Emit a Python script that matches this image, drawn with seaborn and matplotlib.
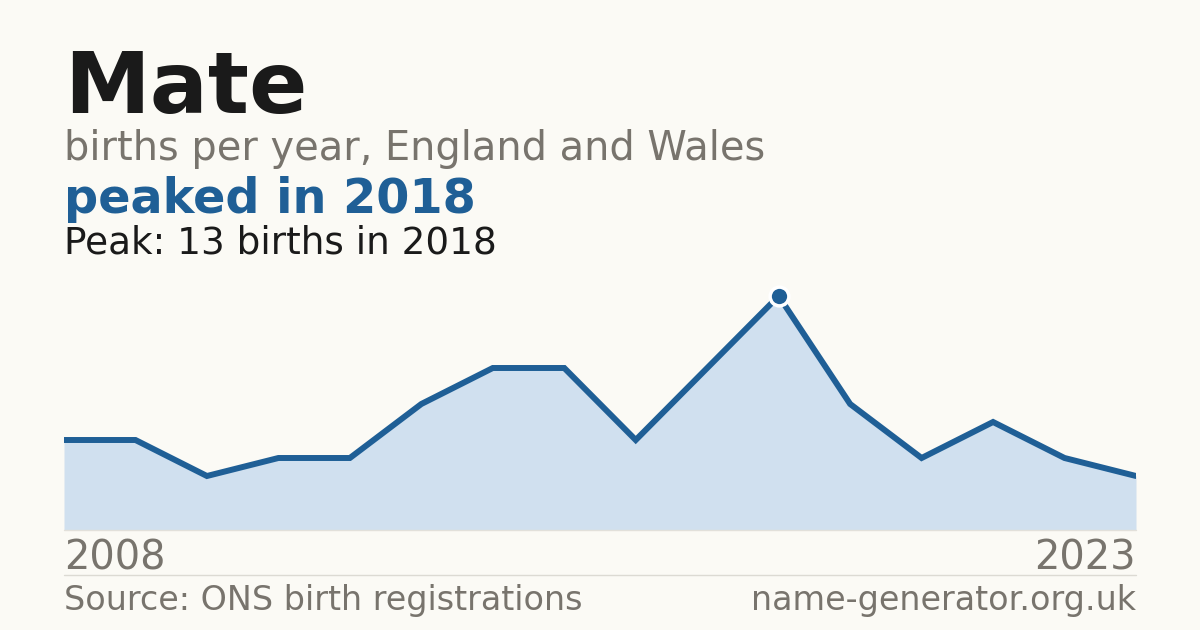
import numpy as np
import pandas as pd
import seaborn as sns
import matplotlib.pyplot as plt
from matplotlib.lines import Line2D

# Datos
years = list(range(2008, 2024))
births = [5, 5, 3, 4, 4, 7, 9, 9, 5, 9, 13, 7, 4, 6, 4, 3]
name = "Mate"
subtitle = "births per year, England and Wales"
headline = "peaked in 2018"
peak_text = "Peak: 13 births in 2018"
source = "Source: ONS birth registrations"
site = "name-generator.org.uk"

bg = "#fbfaf5"
blue = "#1f5f96"
fill = "#d0e0ef"
gray = "#78746d"

sns.set_theme(style="white")
plt.rcParams['font.family'] = ['DejaVu Sans']

df = pd.DataFrame({"year": years, "births": births})

W, H = 1200, 630
fig = plt.figure(figsize=(12, 6.3), dpi=100, facecolor=bg)

# Ejes: 0 en y=530 px, 13 en y=296 px
ax = fig.add_axes([64 / W, (H - 530) / H, 1072 / W, (530 - 296) / H])
ax.set_facecolor(bg)
ax.fill_between(df["year"], df["births"], 0, color=fill, lw=0)
sns.lineplot(data=df, x="year", y="births", ax=ax, color=blue, lw=4.3,
             solid_joinstyle="miter")
peak_i = int(np.argmax(births))
ax.plot(years[peak_i], births[peak_i], "o", ms=13.5, color=blue,
        mec="white", mew=2.5, clip_on=False, zorder=5)
ax.set_xlim(years[0], years[-1])
ax.set_ylim(0, max(births))
ax.axis("off")

def fy(px):
    return 1 - px / H

fig.text(64 / W, fy(113), name, fontsize=62, fontweight="bold", color="#1a1a1a", va="baseline")
fig.text(64 / W, fy(160), subtitle, fontsize=28.7, color=gray, va="baseline")
fig.text(64 / W, fy(213), headline, fontsize=34.4, fontweight="bold", color=blue, va="baseline")
fig.text(64 / W, fy(254), peak_text, fontsize=26.9, color="#1a1a1a", va="baseline")

fig.text(64 / W, fy(570), str(years[0]), fontsize=28.7, color=gray, va="baseline")
fig.text(1136 / W, fy(570), str(years[-1]), fontsize=28.7, color=gray, va="baseline", ha="right")

fig.add_artist(Line2D([64 / W, 1136 / W], [fy(530), fy(530)], color="#e2e0da", lw=1))
fig.add_artist(Line2D([64 / W, 1136 / W], [fy(574.5), fy(574.5)], color="#dcdad3", lw=1))

fig.text(64 / W, fy(610), source, fontsize=24, color=gray, va="baseline")
fig.text(1136 / W, fy(610), site, fontsize=24, color=gray, va="baseline", ha="right")

fig.savefig("out.png", dpi=100, facecolor=bg)
